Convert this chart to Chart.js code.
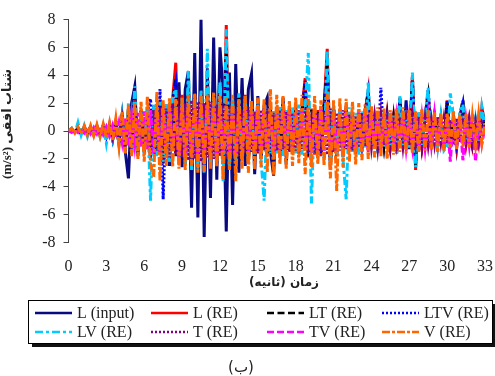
<!DOCTYPE html>
<html>
<head>
<meta charset="utf-8">
<script src="https://cdn.jsdelivr.net/npm/chart.js@4/dist/chart.umd.min.js"></script>
<style>
  html, body { margin: 0; padding: 0; background: #fff; }
  #wrap { width: 495px; height: 376px; }
</style>
</head>
<body>
<div id="wrap"><canvas id="accChart" width="495" height="376"></canvas></div>
<script>
// sample step of the traces (s)
const dt = 0.25;

// horizontal acceleration (m/s2), one value per 0.25 s
const lInput = [
  0, 0.1, -0.1, 0.2, -0.1, 0.3, -0.2, 0.2, -0.3, 0.3, -0.2, 0.4,
  -0.3, 0.3, -0.5, 0.6, -0.8, 1.2, -1.5, -3.4, 2.0, 3.2, -1.8, 1.5,
  -1.6, 1.2, -2.0, 1.8, -1.5, 2.2, -2.3, 1.9, -2.5, 2.4, -1.8, 3.5,
  -2.6, 3.0, 4.3, -5.5, 5.6, -6.2, 8.0, -7.6, 4.5, -4.8, 6.7, -3.5,
  6.0, 3.0, -7.2, 4.2, -5.3, 4.8, -3.0, 3.8, -2.5, 3.0, 4.1, -3.1,
  2.5, -2.0, 1.8, 2.4, -1.5, -3.2, 1.6, -1.8, 2.4, -1.2, 1.5, -1.4,
  1.2, -1.6, 1.5, 3.4, -1.8, 1.4, -1.5, 1.2, -1.7, 2.0, 4.5, -2.0,
  1.6, -1.8, 1.3, -1.5, 1.8, -1.4, 1.2, -1.6, 1.1, -1.3, 1.5, 2.6,
  -1.2, 1.0, -1.4, 1.2, -1.0, 1.3, -1.1, 0.9, -1.6, 1.2, -1.0, 2.2,
  -1.3, 3.4, -1.5, 1.2, -1.0, 0.9, 2.6, -1.2, 1.0, -0.9, 0.8, -1.1,
  2.0, -0.9, 0.8, -1.2, 1.0, 1.8, -0.8, 0.7, -0.9, 0.6, -0.7, 0.5,
  0.3
];
const lRE = [
  0, 0.15, -0.1, 0.2, -0.2, 0.25, -0.15, 0.3, -0.25, 0.3, -0.3, 0.35,
  -0.4, 0.4, -0.5, 0.7, -0.9, 1.1, -1.3, 1.5, -1.6, 2.2, -1.4, 1.3,
  -1.5, 1.6, -1.9, 1.7, -1.6, 2.0, -2.1, 1.8, -2.2, 2.3, 4.9, -2.0,
  2.6, -2.4, 3.0, -2.8, 2.5, -2.6, 2.8, -2.9, 3.2, -2.5, 2.4, -2.2,
  2.8, -2.4, 7.6, -2.8, 2.2, -2.0, 2.6, -1.8, 2.6, -2.2, 1.9, -1.6,
  1.8, -1.9, 1.5, -1.7, 1.6, -1.5, 1.7, -1.8, 1.4, -1.3, 1.6, -1.5,
  1.8, -1.6, 1.5, 3.8, -1.9, 1.6, -1.7, 1.5, -1.8, 1.7, 5.9, -2.8,
  1.8, -1.6, 1.5, -1.9, 1.6, -1.4, 1.2, -1.6, 1.3, -1.2, 1.4, 2.9,
  -1.3, 1.1, -1.5, 1.3, -1.1, 1.2, -1.0, 1.0, -1.5, 2.4, -1.2, 1.4,
  -1.1, 4.0, -2.8, 1.3, -1.1, 1.0, 2.8, -1.2, 1.0, -1.0, 0.9, -1.3,
  2.2, -1.0, 0.9, -1.1, 1.2, 1.6, -0.9, 0.8, -1.0, 0.7, -0.8, 1.7,
  0.5
];
const ltRE = [
  0, 0.1, -0.15, 0.2, -0.15, 0.25, -0.2, 0.25, -0.2, 0.3, -0.25, 0.3,
  -0.35, 0.45, -0.6, 0.6, -0.8, 1.0, -1.2, 1.4, -1.5, 2.0, -1.3, 1.4,
  -1.4, 1.5, -1.8, 1.6, -1.7, 1.9, -2.0, 1.7, -2.1, 2.2, 3.7, -1.9,
  2.4, -2.3, 2.9, -2.6, 2.4, -2.5, 2.6, -2.7, 3.0, -2.4, 2.3, -2.1,
  2.6, -2.3, 5.5, -2.6, 2.1, -1.9, 2.4, -1.7, 2.2, -2.1, 1.8, -1.5,
  1.7, -1.8, 1.4, -1.6, 1.5, -1.4, 1.6, -1.7, 1.3, -2.4, 1.5, -1.4,
  1.7, -1.5, 1.4, 3.3, -1.8, 1.5, -1.6, 1.4, -1.7, 1.6, 4.8, -2.5,
  1.7, -1.5, 1.4, -1.8, 1.5, -1.3, 1.1, -1.5, 1.2, -1.1, 1.3, 2.8,
  -1.2, 1.0, -1.4, 1.2, -1.0, 1.1, -0.9, 0.9, -1.4, 2.3, -1.1, 1.3,
  -1.0, 3.6, -2.5, 1.2, -1.0, 0.9, 2.5, -1.1, 0.9, -0.9, 0.8, -1.2,
  2.0, -0.9, 0.8, -1.0, 1.1, 2.2, -0.8, 0.7, -0.9, 0.6, -0.7, 1.5,
  0.4
];
const ltvRE = [
  0, 0.1, -0.1, 0.15, -0.2, 0.2, -0.2, 0.3, -0.3, 0.35, -0.3, 0.4,
  -0.4, 0.5, -0.6, 0.7, -0.9, 1.0, -1.1, 1.3, -1.4, 1.8, -1.2, 1.3,
  -1.3, 1.4, 2.3, -1.7, -1.6, 3.0, -4.9, 1.6, -2.0, 2.1, 3.4, -1.8,
  2.3, -2.2, 2.7, -2.5, 2.3, -2.4, 2.5, -2.6, 2.9, -2.3, 2.2, -2.0,
  2.5, -2.2, 5.0, -2.5, 2.0, -1.8, 2.3, -1.6, 2.1, -2.0, 1.7, -1.4,
  1.6, -1.7, 1.3, -1.5, 1.4, -1.3, 1.5, -1.6, 1.2, -2.0, 1.4, -1.3,
  1.6, -1.4, 1.3, 3.6, -1.7, 1.4, -1.5, 1.3, -1.6, 1.5, 4.4, -2.3,
  1.6, -1.4, 1.3, -1.7, 1.4, -1.2, 1.0, -1.4, 1.1, -1.0, 1.2, 2.7,
  -1.1, 0.9, -1.3, 3.1, -0.9, 1.0, -0.8, 0.8, -1.3, 2.2, -1.0, 1.2,
  -0.9, 3.8, -2.4, 1.1, -0.9, 0.8, 3.0, -1.0, 0.8, -0.8, 0.7, -1.1,
  2.2, -0.8, 0.7, -0.9, 1.0, 2.0, -0.7, 0.6, -0.8, 0.5, -0.6, 1.4,
  0.4
];
const lvRE = [
  0, 0.2, -0.2, 0.6, -0.3, 0.4, -0.4, 0.3, -0.3, 0.4, -0.4, 0.5,
  -0.9, 0.5, -0.6, 0.8, -1.0, 1.1, -1.3, 2.0, -1.6, 3.2, -1.5, 1.4,
  -1.6, 1.5, -5.0, 1.9, -1.8, 2.1, -2.2, 1.9, -2.3, 2.5, 3.0, -2.1,
  2.4, -2.5, 4.3, -2.8, 2.6, -2.7, 2.9, -3.0, 5.9, -2.6, 2.5, -2.3,
  3.5, -3.6, 7.3, -2.7, 2.3, -2.1, 2.7, -1.9, 2.5, -2.3, 2.0, -1.7,
  1.9, -2.0, -5.0, 1.6, -1.7, 1.5, -1.6, 1.8, -1.9, 1.5, -1.4, 1.7,
  -1.6, 1.9, -1.7, 1.6, 5.6, -5.2, 1.7, -1.8, 1.6, -1.9, 5.8, -2.7,
  1.9, -1.7, 1.6, -2.0, -4.9, 1.7, -1.5, 1.3, -1.7, 1.4, -1.3, 3.5,
  -1.3, 1.1, -1.6, 1.4, -1.2, 1.3, -1.1, 1.1, -1.6, 2.5, -1.3, 1.5,
  -1.2, 4.2, -2.6, 1.4, -1.2, 1.1, 3.1, -1.3, 1.1, -1.1, 1.0, -1.4,
  -1.1, 2.7, 1.0, -1.2, 1.3, 1.9, -1.0, 0.9, -1.1, 0.8, -0.9, 1.7,
  0.3
];
const tRE = [
  0, 0.1, -0.1, 0.2, -0.15, 0.2, -0.2, 0.25, -0.2, 0.3, -0.25, 0.3,
  -0.3, 0.4, -0.5, 0.6, -0.7, 0.9, -1.0, 1.2, -1.3, 1.5, -1.2, 1.2,
  -1.3, 1.3, -1.6, 1.5, -1.4, 1.7, -1.8, 1.6, -1.9, 2.0, -1.7, 1.8,
  -1.9, 2.0, -2.1, 2.2, -2.0, 2.1, -2.2, 2.0, -1.9, 2.1, -2.0, 1.9,
  -1.8, 2.0, -1.9, 1.8, -1.7, 1.6, -1.8, 1.5, -1.6, 1.7, -1.5, 1.4,
  -1.6, 1.5, -1.4, 1.6, -1.5, 1.3, -1.4, 1.5, -1.3, 1.4, -1.5, 1.3,
  -1.4, 1.5, -1.3, 1.6, -1.5, 1.4, -1.6, 1.3, -1.5, 1.4, -1.7, 1.6,
  -1.5, 1.3, -1.4, 1.5, -1.3, 1.2, -1.4, 1.1, -1.2, 1.3, -1.1, 1.2,
  -1.1, 1.0, -1.2, 1.1, -1.0, 0.9, -1.1, 1.0, -0.9, 1.0, -1.1, 0.9,
  -1.0, 1.1, -0.9, 1.0, -1.1, 0.9, -1.0, 0.8, -0.9, 1.0, -0.8, 0.9,
  -0.9, 0.8, -1.0, 0.9, -0.8, 0.9, -0.7, 0.8, -0.9, 0.7, -0.8, 0.6,
  0.2
];
const tvRE = [
  0, -0.1, 0.15, -0.1, 0.2, -0.15, 0.2, -0.2, 0.25, -0.2, 0.3, -0.25,
  0.3, -0.35, 0.4, -0.5, 0.6, -0.8, 1.0, -1.1, 1.2, -1.0, 1.3, -1.2,
  1.4, -1.3, 1.5, -1.6, 1.4, -1.7, 1.6, -1.5, 1.8, -1.4, 1.7, -2.4,
  1.8, -1.7, 1.9, -1.8, 1.7, -1.9, 2.0, -1.8, 1.9, -1.7, 1.8, -1.9,
  1.7, -1.6, 1.8, -1.5, 1.6, -1.7, 1.5, -1.4, 1.6, -1.5, 1.4, -1.6,
  1.5, -1.4, 1.6, -1.3, 1.4, -1.5, 1.3, -1.4, 1.5, -1.3, 1.4, -1.2,
  1.3, -1.4, 1.5, -1.3, 1.4, -1.6, 1.3, -1.5, 1.6, -1.4, 1.5, -1.7,
  1.4, -1.5, 1.3, -1.6, 1.5, -1.4, 1.2, -1.3, 1.4, -1.2, 1.3, -1.5,
  1.2, -1.3, 1.1, -1.4, 1.2, -1.1, 1.3, -1.2, 1.0, -1.3, 1.1, -1.2,
  1.0, -1.1, 1.2, -1.3, 1.0, -1.2, 1.1, -1.0, 1.2, -1.1, 0.9, -1.3,
  1.0, -2.2, 0.9, -1.2, 1.1, -2.1, 0.8, -1.0, 1.2, -2.2, 0.8, -0.9,
  0.3
];
const vRE = [
  0, 0.2, -0.15, 0.3, -0.2, 0.35, -0.3, 0.4, -0.35, 0.45, -0.4, 0.5,
  -0.5, 0.6, -0.7, 0.9, -1.1, 1.4, -1.6, 1.9, -1.8, 2.0, -2.0, 2.1,
  -2.2, 2.5, -2.4, -3.3, 2.8, -3.6, 2.2, -2.5, 2.4, -2.6, 2.3, -2.7,
  2.4, -2.8, 2.6, -2.5, 2.7, -3.0, 2.5, -2.9, 2.6, -2.7, 2.8, -2.6,
  2.5, -3.5, 2.4, -2.8, 2.6, -3.6, 2.3, -2.7, 2.5, -3.0, 2.2, -2.8,
  2.4, -2.6, 2.3, -3.0, 3.0, -3.2, 2.6, -2.4, 2.5, -2.7, 2.2, -2.5,
  2.4, -2.3, 2.6, -3.1, 2.3, -2.6, 2.5, -2.4, 2.2, -2.5, 2.7, -3.4,
  2.2, -4.3, 2.4, -2.6, 2.3, -2.2, 2.1, -2.4, 2.0, -2.1, 1.9, -2.0,
  1.8, -1.9, 1.7, -1.8, 1.6, -2.0, 1.5, -1.7, 1.6, -1.5, 1.7, -1.6,
  1.5, -1.6, 1.4, -1.5, 1.6, -1.4, 1.5, -1.3, 1.4, -1.5, 1.3, -1.4,
  1.3, -1.2, 1.4, -1.3, 1.2, -1.1, 1.3, -1.2, 1.1, -1.0, 1.2, -0.9,
  0.5
];

const seriesNames = ["L (input)", "L (RE)", "LT (RE)", "LTV (RE)", "LV (RE)", "T (RE)", "TV (RE)", "V (RE)"];
const yTicks = [-8, -6, -4, -2, 0, 2, 4, 6, 8];
const xTicks = [0, 3, 6, 9, 12, 15, 18, 21, 24, 27, 30, 33];
const xTitle = "زمان (ثانیه)";
const yTitle = "(m/s²) شتاب افقی";
const caption = "(ب)";

const time = lInput.map((v, i) => i * dt);
const toPts = (arr) => arr.map((v, i) => ({ x: time[i], y: v }));

// style per series: colour, dash, stacking (lower order is drawn on top)
const styles = [
  { color: "#0a0a80", dash: [], order: 8 },
  { color: "#ff0000", dash: [], order: 7 },
  { color: "#000000", dash: [7, 3.5], order: 6 },
  { color: "#0000ff", dash: [2, 2], order: 5 },
  { color: "#00ccff", dash: [8, 3, 3, 3], order: 4 },
  { color: "#800080", dash: [2, 2], order: 3 },
  { color: "#ff00ff", dash: [7, 3], order: 2 },
  { color: "#ff6600", dash: [8, 2, 3, 2], order: 1 },
];
const allData = [lInput, lRE, ltRE, ltvRE, lvRE, tRE, tvRE, vRE];

let datasets = [];
for (let i = 0; i < allData.length; i++) {
  datasets.push({
    label: seriesNames[i],
    data: toPts(allData[i]),
    borderColor: styles[i].color,
    backgroundColor: styles[i].color,
    borderDash: styles[i].dash,
    borderWidth: 3,
    pointRadius: 0,
    tension: 0,
    order: styles[i].order,
  });
}

// legend box, axis titles and caption
const extras = {
  id: "extras",
  afterDraw(chart) {
    const ctx = chart.ctx;
    ctx.save();
    // legend frame with shadow
    ctx.fillStyle = "#111";
    ctx.fillRect(32, 304, 464, 43);
    ctx.fillStyle = "#fff";
    ctx.fillRect(28.5, 300.5, 464, 43);
    ctx.strokeStyle = "#000";
    ctx.lineWidth = 1;
    ctx.strokeRect(28.5, 300.5, 464, 43);

    const cols = [35, 151, 267, 382];
    const rows = [313, 332];
    ctx.font = '16px "Liberation Serif", serif';
    ctx.textBaseline = "middle";
    ctx.textAlign = "left";
    chart.data.datasets.forEach((ds, i) => {
      let x0 = cols[i % 4];
      let y0 = rows[Math.floor(i / 4)];
      ctx.beginPath();
      ctx.setLineDash(ds.borderDash);
      ctx.strokeStyle = ds.borderColor;
      ctx.lineWidth = 2.5;
      ctx.moveTo(x0, y0);
      ctx.lineTo(x0 + 37, y0);
      ctx.stroke();
      ctx.setLineDash([]);
      ctx.fillStyle = "#222";
      ctx.fillText(ds.label, x0 + 42, y0 + 1);
    });

    // x title and caption (right to left)
    ctx.direction = "rtl";
    ctx.textAlign = "center";
    ctx.fillStyle = "#222";
    ctx.font = 'bold 12px "DejaVu Sans", sans-serif';
    ctx.fillText(xTitle, 284, 283);
    ctx.font = '15px "DejaVu Sans", sans-serif';
    ctx.fillText(caption, 241, 368);

    // y title, rotated
    ctx.direction = "ltr";
    ctx.translate(8, 124);
    ctx.rotate(-Math.PI / 2);
    ctx.font = 'bold 13px "Liberation Serif", "DejaVu Sans", serif';
    ctx.fillText(yTitle, 0, 0);
    ctx.restore();
  },
};

let ctxEl = document.getElementById("accChart").getContext("2d");

const accChart = new Chart(ctxEl, {
  type: "line",
  data: { datasets: datasets },
  plugins: [extras],
  options: {
    responsive: false,
    animation: false,
    layout: { padding: { left: 0, right: 10, top: 19.5, bottom: 93.5 } },
    plugins: {
      legend: { display: false },
      tooltip: { enabled: false },
    },
    scales: {
      x: {
        type: "linear",
        min: xTicks[0],
        max: xTicks[xTicks.length - 1],
        afterBuildTicks: (scale) => {
          scale.ticks = xTicks.map((v) => ({ value: v }));
        },
        afterFit: (scale) => {
          scale.height = 40;
        },
        grid: { display: false, drawTicks: true, tickLength: 15 },
        border: { display: false },
        ticks: {
          padding: 0,
          color: "#222",
          font: { family: '"Liberation Serif", serif', size: 16 },
        },
      },
      y: {
        min: yTicks[0],
        max: yTicks[yTicks.length - 1],
        afterBuildTicks: (scale) => {
          scale.ticks = yTicks.map((v) => ({ value: v }));
        },
        afterFit: (scale) => {
          scale.width = 68.5;
        },
        grid: { drawOnChartArea: false, drawTicks: true, tickLength: 5, color: "#444" },
        border: { display: true, color: "#444", width: 1 },
        ticks: {
          padding: 8,
          color: "#222",
          font: { family: '"Liberation Serif", serif', size: 16 },
        },
      },
    },
  },
});
</script>
</body>
</html>
